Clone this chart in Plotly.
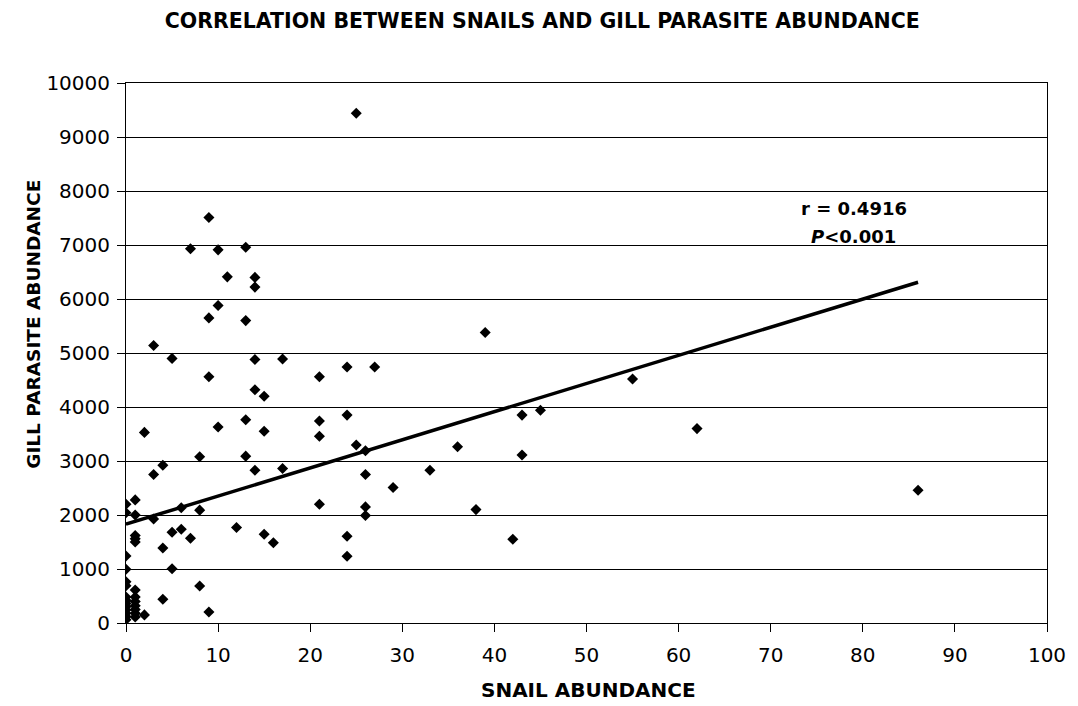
import plotly.graph_objects as go
import numpy as np

# Snail abundance (x) and gill parasite abundance (y) per host sample
snail_abundance = [
    25, 9, 7, 10, 13, 11, 14, 14, 10, 9, 13, 3, 5, 14, 17, 9, 14, 15, 21, 24,
    27, 39, 55, 62, 86, 45, 43, 43, 36, 33, 29, 38, 42, 2, 3, 4, 8, 10, 13, 13,
    15, 14, 17, 21, 21, 24, 25, 26, 26, 21, 26, 26, 24, 24, 15, 16, 12, 1, 0, 0,
    1, 3, 6, 8, 1, 1, 1, 5, 6, 7, 4, 5, 0, 0, 0, 0, 1, 8, 4, 9,
    2, 0, 0, 0, 0, 0, 0, 0, 0, 1, 1, 1, 1, 1, 1,
]
gill_parasite_abundance = [
    9440, 7510, 6930, 6910, 6960, 6410, 6400, 6220, 5880, 5650, 5600, 5140, 4900,
    4880, 4890, 4560, 4320, 4200, 4560, 4740, 4740, 5380, 4520, 3600, 2460, 3940,
    3850, 3110, 3265, 2830, 2510, 2100, 1550, 3530, 2750, 2920, 3080, 3630, 3765,
    3090, 3550, 2830, 2860, 3740, 3460, 3850, 3296, 3190, 2750, 2200, 2150, 1990,
    1605, 1235, 1645, 1485, 1770, 2280, 2200, 2040, 2000, 1925, 2135, 2090, 1620,
    1560, 1500, 1680, 1735, 1570, 1390, 1005, 1240, 995, 765, 690, 610, 685, 440,
    205, 150, 480, 420, 360, 300, 240, 180, 120, 60, 480, 400, 320, 250, 180, 110,
]

# Least-squares trend line parameters and statistics shown on the chart
trend_intercept = 1830
trend_slope = 52.1
trend_x_range = [0, 86]
r_value = "0.4916"
p_value = "<0.001"

x_ticks = list(range(0, 101, 10))
y_ticks = list(range(0, 10001, 1000))
y_tick_labels = [str(v) for v in y_ticks]

FONT = "DejaVu Sans, Liberation Sans, Arial, sans-serif"

trend_x = np.array(trend_x_range, dtype=float)
trend_y = trend_intercept + trend_slope * trend_x

fig = go.Figure()
fig.add_trace(go.Scatter(
    x=snail_abundance, y=gill_parasite_abundance, mode="markers",
    marker=dict(symbol="diamond", size=8.5, color="black", line=dict(width=0)),
    showlegend=False, hoverinfo="x+y",
))
fig.add_trace(go.Scatter(
    x=trend_x, y=trend_y, mode="lines",
    line=dict(color="black", width=3.5), showlegend=False, hoverinfo="skip",
))

axis_common = dict(
    showline=True, linecolor="black", linewidth=1, mirror=True,
    ticks="outside", ticklen=8, tickcolor="black", tickwidth=1,
    tickfont=dict(family=FONT, size=20, color="black"),
    zeroline=False,
)

fig.update_xaxes(
    range=[0, 100], tickvals=x_ticks, showgrid=False,
    ticklabelstandoff=6, **axis_common,
)
fig.update_yaxes(
    range=[0, 10000], tickvals=y_ticks, ticktext=y_tick_labels, showgrid=True,
    gridcolor="black", gridwidth=1, ticklabelstandoff=3, **axis_common,
)

stat_font = dict(family=FONT, size=18, color="black")
annotations = [
    dict(
        text=f"<b>r = {r_value}</b>", x=79.0, y=7680, xref="x", yref="y",
        showarrow=False, xanchor="center", yanchor="middle", font=stat_font,
    ),
    dict(
        text=f"<b><i>P</i>{p_value}</b>", x=79.0, y=7160, xref="x", yref="y",
        showarrow=False, xanchor="center", yanchor="middle", font=stat_font,
    ),
    dict(
        text="<b>SNAIL ABUNDANCE</b>", x=0.502, y=-0.124,
        xref="paper", yref="paper", showarrow=False, xanchor="center", yanchor="middle",
        font=dict(family=FONT, size=20, color="black"),
    ),
    dict(
        text="<b>GILL PARASITE ABUNDANCE</b>", x=-0.1, y=0.554,
        xref="paper", yref="paper", showarrow=False, textangle=-90,
        xanchor="center", yanchor="middle",
        font=dict(family=FONT, size=18.5, color="black"),
    ),
]

fig.update_layout(
    width=1078, height=706,
    margin=dict(l=126, r=27, t=83, b=83),
    paper_bgcolor="white", plot_bgcolor="white",
    title=dict(
        text="<b>CORRELATION BETWEEN SNAILS AND GILL PARASITE ABUNDANCE</b>",
        x=0.503, xanchor="center", y=0.971, yanchor="middle",
        font=dict(family=FONT, size=20.5, color="black"),
    ),
    annotations=annotations,
)

fig.write_html("out.html")
